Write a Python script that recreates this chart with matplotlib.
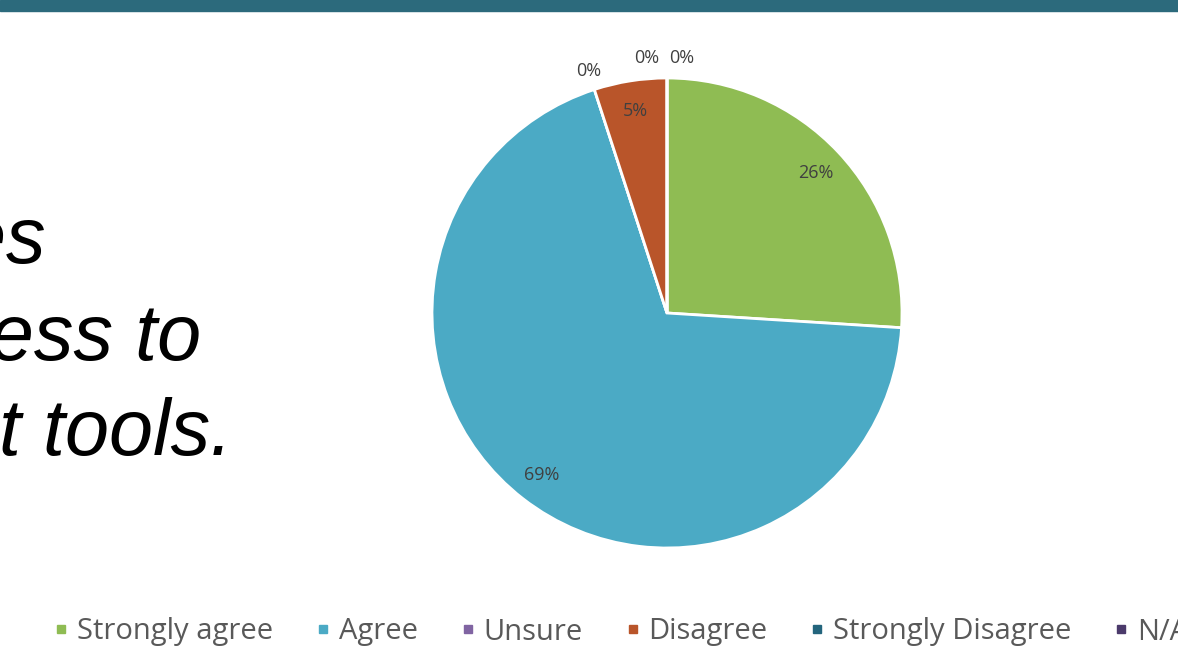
import numpy as np
import matplotlib.pyplot as plt
from matplotlib.lines import Line2D

# survey responses (percent of respondents)
categories = ["Strongly agree", "Agree", "Unsure", "Disagree", "Strongly Disagree", "N/A"]
shares = [26, 69, 0, 5, 0, 0]
colors = ["#8FBC53", "#4BAAC5", "#8064A2", "#B9552A", "#23657D", "#4B3A6B"]

statement = ["Practices", "have access to", "the right tools."]


def main():
    fig = plt.figure(figsize=(11.78, 6.55), dpi=100)
    fig.patch.set_facecolor("white")

    # header strip
    fig.patches.append(plt.Rectangle((0, 1 - 11 / 655), 1, 11 / 655, transform=fig.transFigure,
                                     color="#2C6A7C", zorder=5))

    # left statement, runs off the page edge
    right_edges = [46, 201, 232]
    baselines = [263, 360, 455]
    for line, xr, yb in zip(statement, right_edges, baselines):
        fig.text(xr / 1178, 1 - yb / 655, line, ha="right", va="baseline",
                 fontsize=57, style="italic", family="Liberation Sans", color="black")

    cx, cy, r = 667, 313, 235
    ax = fig.add_axes([(cx - r) / 1178, 1 - (cy + r) / 655, 2 * r / 1178, 2 * r / 655])
    wedges, _ = ax.pie(shares, colors=colors, startangle=90, counterclock=False,
                       radius=1, wedgeprops=dict(edgecolor="white", linewidth=2))
    ax.set_xlim(-1, 1)
    ax.set_ylim(-1, 1)
    ax.set_aspect("auto")
    ax.axis("off")

    # percentage labels, zero slices sit just outside the rim
    top_shift = {4: -0.085, 5: 0.064}
    for i, (w, val) in enumerate(zip(wedges, shares)):
        mid = np.deg2rad((w.theta1 + w.theta2) / 2)
        dist = 0.87 if val > 0 else 1.085
        x = dist * np.cos(mid) + top_shift.get(i, 0)
        y = dist * np.sin(mid)
        ax.text(x, y, f"{val}%", ha="center", va="center", fontsize=13,
                family="Open Sans", color="#404040", clip_on=False)

    handles = [Line2D([], [], marker="s", linestyle="none", markersize=6, color=c) for c in colors]
    fig.legend(handles, categories, ncol=6, frameon=False, loc="center left",
               bbox_to_anchor=(54 / 1178, 1 - 632 / 655), prop={"family": "Open Sans", "size": 21},
               labelcolor="#595959", handlelength=0.5, handletextpad=0.3, columnspacing=1.45,
               borderaxespad=0, borderpad=0)

    fig.savefig("out.png", dpi=100)
    plt.close(fig)


if __name__ == "__main__":
    main()
